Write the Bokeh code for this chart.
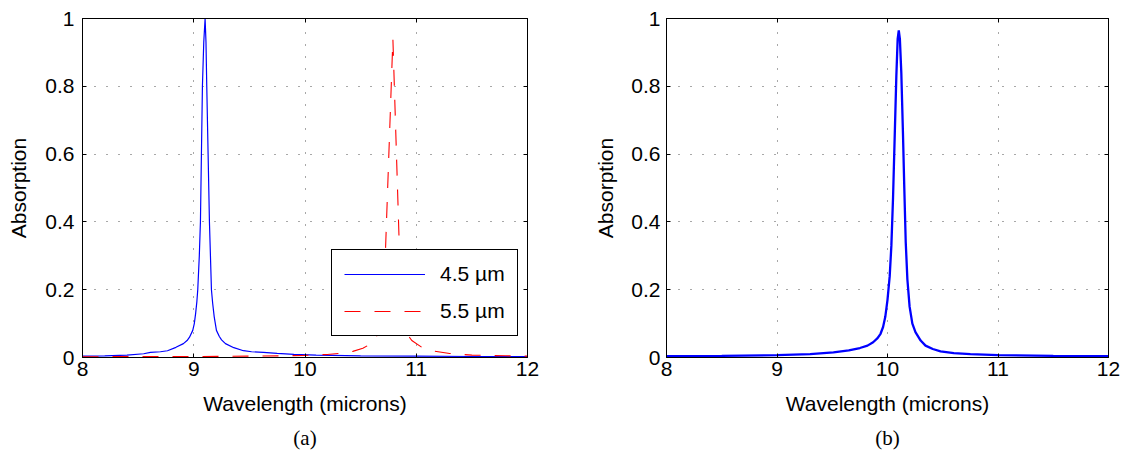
from bokeh.plotting import figure
from bokeh.models import (LinearAxis, FixedTicker, CustomJSTickFormatter, Range1d,
                          Title)
from bokeh.layouts import row
from bokeh.embed import file_html
from bokeh.resources import INLINE

# Panel (a): absorption spectra for two structure sizes
wl_45 = [8.0, 8.2, 8.4, 8.55, 8.611, 8.7, 8.764, 8.84, 8.907, 8.94, 8.962, 8.991,
         9.005, 9.017, 9.028, 9.036, 9.05, 9.06, 9.069, 9.078, 9.09, 9.102, 9.11,
         9.117, 9.129, 9.141, 9.15, 9.159, 9.17, 9.184, 9.204, 9.23, 9.25, 9.285,
         9.36, 9.447, 9.52, 9.626, 9.75, 9.9, 10.1, 10.5, 11.0, 11.5, 12.0]
abs_45 = [0.004, 0.005, 0.007, 0.011, 0.015, 0.017, 0.020, 0.030, 0.041, 0.050,
          0.060, 0.080, 0.100, 0.130, 0.165, 0.200, 0.300, 0.400, 0.600, 0.800,
          0.930, 1.000, 0.930, 0.800, 0.600, 0.400, 0.300, 0.200, 0.160, 0.120,
          0.080, 0.062, 0.052, 0.041, 0.029, 0.020, 0.017, 0.015, 0.012, 0.009,
          0.007, 0.005, 0.004, 0.003, 0.003]

wl_55 = [8.0, 8.5, 9.0, 9.5, 9.8, 10.0, 10.2, 10.35, 10.43, 10.52, 10.61, 10.70,
         10.79, 10.87, 10.96, 11.05, 11.14, 11.3, 11.5, 11.8, 12.0]
abs_55 = [0.002, 0.003, 0.003, 0.004, 0.005, 0.006, 0.009, 0.013, 0.018, 0.027,
          0.044, 0.096, 0.940, 0.091, 0.050, 0.030, 0.020, 0.012, 0.007, 0.005,
          0.004]

# Panel (b): single absorption spectrum
wl_b = [8.0, 8.5, 9.0, 9.3, 9.511, 9.65, 9.75, 9.819, 9.87, 9.91, 9.937, 9.96,
        9.98, 10.0, 10.02, 10.035, 10.05, 10.065, 10.08, 10.092, 10.102, 10.112,
        10.125, 10.14, 10.152, 10.165, 10.18, 10.2, 10.225, 10.253, 10.3, 10.344,
        10.41, 10.48, 10.6, 10.75, 11.0, 11.5, 12.0]
abs_b = [0.004, 0.005, 0.007, 0.010, 0.015, 0.021, 0.028, 0.035, 0.045, 0.057,
         0.070, 0.090, 0.120, 0.170, 0.240, 0.330, 0.470, 0.650, 0.830, 0.940,
         0.965, 0.940, 0.840, 0.660, 0.500, 0.340, 0.230, 0.150, 0.100, 0.075,
         0.050, 0.035, 0.025, 0.018, 0.013, 0.010, 0.007, 0.005, 0.004]

x_ticks = [8, 9, 10, 11, 12]
y_ticks = [0, 0.2, 0.4, 0.6, 0.8, 1]

FONT = "Liberation Sans"
SERIF = "Liberation Serif"
FS = "21px"


def panel(border_left, border_right, frame_w, ylabel_standoff, tick_standoff, caption):
    p = figure(frame_width=frame_w, frame_height=339,
               x_range=Range1d(8, 12), y_range=Range1d(0, 1),
               output_backend="svg", toolbar_location=None,
               min_border_left=border_left, min_border_right=border_right,
               min_border_top=18, min_border_bottom=95,
               x_axis_label="Wavelength (microns)", y_axis_label="Absorption")
    p.outline_line_color = "black"
    p.outline_line_width = 1
    p.background_fill_color = "white"
    p.border_fill_color = "white"

    yfmt = CustomJSTickFormatter(code="return String(Math.round(tick * 10) / 10);")
    for ax in p.xaxis:
        ax.ticker = FixedTicker(ticks=x_ticks)
        ax.major_label_standoff = 4
        ax.axis_label_standoff = 13
    for ax in p.yaxis:
        ax.ticker = FixedTicker(ticks=y_ticks)
        ax.formatter = yfmt
        ax.major_label_standoff = tick_standoff
        ax.axis_label_standoff = ylabel_standoff
    for ax in list(p.xaxis) + list(p.yaxis):
        ax.major_tick_in = 4
        ax.major_tick_out = 0
        ax.minor_tick_line_color = None
        ax.axis_line_color = "black"
        ax.major_tick_line_color = "black"
        ax.major_label_text_font = FONT
        ax.major_label_text_font_size = FS
        ax.major_label_text_color = "black"
        ax.axis_label_text_font = FONT
        ax.axis_label_text_font_size = FS
        ax.axis_label_text_font_style = "normal"
        ax.axis_label_text_color = "black"

    blank = CustomJSTickFormatter(code="return '';")
    top = LinearAxis(ticker=FixedTicker(ticks=x_ticks), formatter=blank,
                     major_tick_in=4, major_tick_out=0, minor_tick_line_color=None,
                     major_label_text_font_size="1px", major_label_standoff=0)
    right = LinearAxis(ticker=FixedTicker(ticks=y_ticks), formatter=blank,
                       major_tick_in=4, major_tick_out=0, minor_tick_line_color=None,
                       major_label_text_font_size="1px", major_label_standoff=0)
    p.add_layout(top, "above")
    p.add_layout(right, "right")

    for g in (p.xgrid, p.ygrid):
        g.grid_line_color = "#505050"
        g.grid_line_dash = "1 11"
        g.grid_line_width = 1
    p.xgrid.ticker = FixedTicker(ticks=x_ticks)
    p.ygrid.ticker = FixedTicker(ticks=y_ticks)

    p.add_layout(Title(text=caption, align="center", text_font=SERIF,
                       text_font_size="21px", text_font_style="normal",
                       text_color="black", standoff=12), "below")
    return p


pa = panel(82, 53, 445, 12, 8, "(a)")
pa.line(wl_45, abs_45, color="#0000ff", line_width=1.2, legend_label="4.5 \u00b5m")
pa.line(wl_55, abs_55, color="#ff0000", line_width=1.1, line_dash="16 14",
        legend_label="5.5 \u00b5m")
lg = pa.legend[0]
lg.location = (249, 21)
lg.border_line_color = "black"
lg.border_line_alpha = 1
lg.border_line_width = 1
lg.background_fill_alpha = 1
lg.label_text_font = FONT
lg.label_text_font_size = FS
lg.label_text_color = "black"
lg.padding = 12
lg.spacing = 13
lg.glyph_height = 20
lg.label_height = 20
lg.glyph_width = 81
lg.label_standoff = 15
lg.margin = 0

pb = panel(86, 19, 442, 11, 6, "(b)")
pb.line(wl_b, abs_b, color="#0000ff", line_width=2.3)

layout = row(pa, pb)
open("out.html", "w").write(file_html(layout, INLINE))
